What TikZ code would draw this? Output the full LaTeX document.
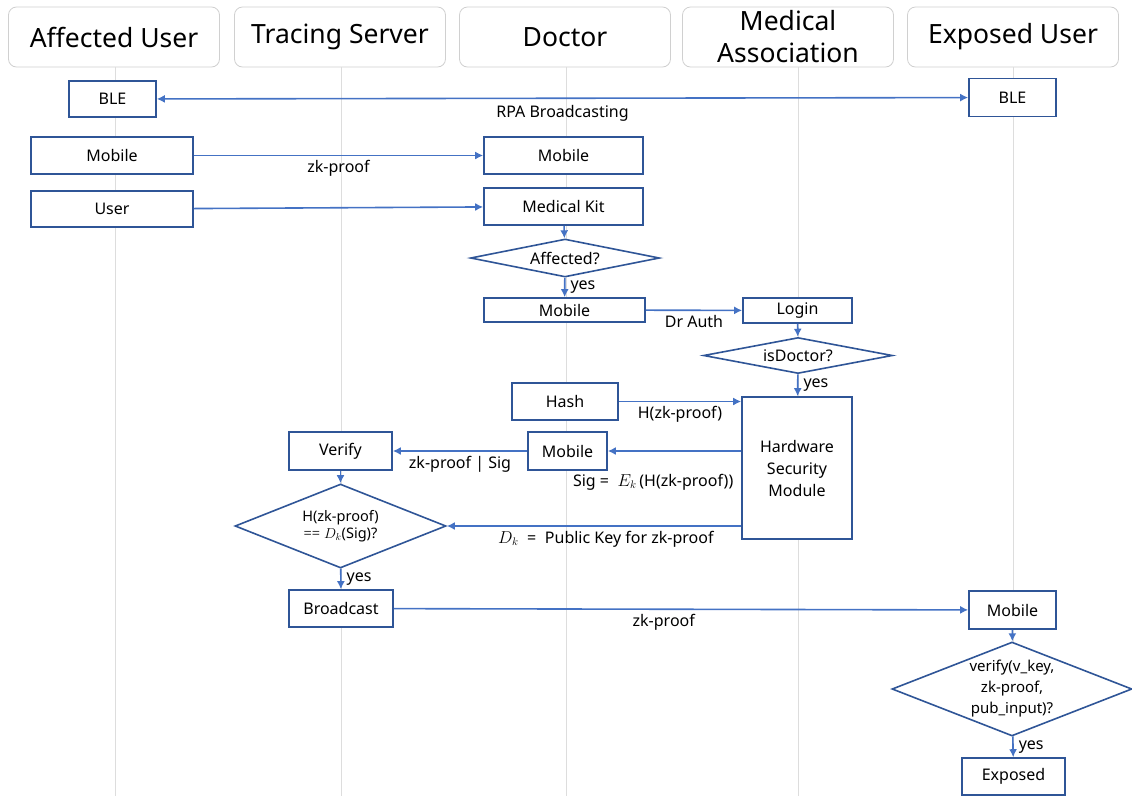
\documentclass[tikz,border=0pt]{standalone}
\usepackage{fontspec}
\setmainfont{Noto Sans}
\usetikzlibrary{shapes.geometric,arrows.meta}
\definecolor{boxc}{HTML}{2F5597}
\definecolor{arrc}{HTML}{4472C4}
\definecolor{hdrc}{HTML}{D0D0D0}
\definecolor{lifec}{HTML}{DDDDDD}
\tikzset{
  hdr/.style={draw=hdrc, line width=0.8pt, rounded corners=8pt, fill=white, minimum width=211pt, minimum height=60pt, inner sep=0pt, font=\fontsize{26.5}{28}\selectfont, align=center},
  bx/.style={draw=boxc, line width=1.6pt, fill=white, inner sep=0pt, font=\fontsize{16}{19}\selectfont, align=center},
  dm/.style={diamond, draw=boxc, line width=1.6pt, fill=white, inner sep=0pt, font=\fontsize{16}{19}\selectfont, align=center},
  arr/.style={draw=arrc, line width=1.6pt, -{Latex[length=8pt,width=8pt]}},
  lbl/.style={font=\fontsize{16}{19}\selectfont, inner sep=1pt},
  life/.style={draw=lifec, line width=0.8pt}
}
\begin{document}
\begin{tikzpicture}[x=1pt,y=-1pt]
\useasboundingbox (0,0) rectangle (1132,796);
% headers
\node[hdr] (h1) at (114,37) {Affected User};
\node[hdr] (h2) at (340,37) {Tracing Server};
\node[hdr] (h3) at (565,37) {Doctor};
\node[hdr] (h4) at (788,37) {Medical\\[4pt]Association};
\node[hdr] (h5) at (1013,37) {Exposed User};
% lifelines
\coordinate (e1) at (115,796);
\coordinate (e2) at (341,796);
\coordinate (e3) at (566,796);
\coordinate (e4) at (798,796);
\coordinate (e5) at (1013,796);
\draw[life] (115,67) -- (e1);
\draw[life] (341,67) -- (e2);
\draw[life] (566,67) -- (e3);
\draw[life] (798,67) -- (e4);
\draw[life] (1013,67) -- (e5);
% boxes
\node[bx, minimum width=87pt, minimum height=36pt] (ble1) at (112.5,99) {BLE};
\node[bx, minimum width=87pt, minimum height=38pt] (ble2) at (1012.5,97.5) {BLE};
\node[bx, minimum width=162pt, minimum height=37pt] (mob1) at (112,155.5) {Mobile};
\node[bx, minimum width=159pt, minimum height=37pt] (mob2) at (563.5,155.5) {Mobile};
\node[bx, minimum width=162pt, minimum height=36pt] (user) at (112,209) {User};
\node[bx, minimum width=159pt, minimum height=37pt] (kit) at (563.5,206.5) {Medical Kit};
\node[dm, shape aspect=5, minimum width=189pt, minimum height=38pt] (aff) at (565,258) {Affected?};
\node[bx, minimum width=161pt, minimum height=24pt] (mob3) at (564.5,310) {Mobile};
\node[bx, minimum width=109pt, minimum height=25pt] (login) at (797.5,310.5) {Login};
\node[dm, shape aspect=5.1, minimum width=189pt, minimum height=36pt] (isdoc) at (798,355.5) {isDoctor?};
\node[bx, minimum width=110pt, minimum height=142pt] (hsm) at (797,468) {Hardware\\[3pt]Security\\[3pt]Module};
\node[bx, minimum width=106pt, minimum height=37pt] (hash) at (565,401.5) {Hash};
\node[bx, minimum width=79pt, minimum height=38pt] (mob4) at (567.5,451) {Mobile};
\node[bx, minimum width=103pt, minimum height=38pt] (ver) at (340.5,451) {Verify};
\node[dm, shape aspect=2.5, minimum width=211pt, minimum height=84pt, font=\fontsize{14.5}{17}\selectfont] (chk) at (340.5,526) {H(zk-proof)\\[0pt]\textcolor{black!75}{==} $D_k$(Sig)?};
\node[bx, minimum width=104pt, minimum height=37pt] (bc) at (341,608.5) {Broadcast};
\node[bx, minimum width=87pt, minimum height=38pt] (mob5) at (1012.5,610) {Mobile};
\node[dm, shape aspect=2.55, minimum width=240pt, minimum height=94pt, font=\fontsize{15}{17}\selectfont] (vk) at (1012,689) {verify(v\_key,\\[4pt]zk-proof,\\[4pt]pub\_input)?};
\node[bx, minimum width=103pt, minimum height=37pt] (exp) at (1013.5,776.5) {Exposed};
% connectors
\draw[arr, {Latex[length=8pt,width=8pt]}-{Latex[length=8pt,width=8pt]}] (ble1) -- (ble2) node[lbl, midway, below=5pt] {RPA Broadcasting};
\draw[arr] (mob1) -- (mob2) node[lbl, midway, below=3pt] {zk-proof};
\draw[arr] (user) -- (kit);
\draw[arr] (kit) -- (aff);
\draw[arr] (aff) -- (mob3) node[lbl, midway, right=4pt] {yes};
\draw[arr] (mob3) -- (login) node[lbl, midway, below=3pt] {Dr Auth};
\draw[arr] (login) -- (isdoc);
\draw[arr] (isdoc) -- (hsm) node[lbl, midway, right=4pt] {yes};
\draw[arr] (hash.east) -- (hash.east -| hsm.west) node[lbl, midway, below=3pt] {H(zk-proof)};
\draw[arr] (hsm.west |- mob4.east) -- (mob4.east) node[lbl, pos=0.66, below=21pt] {Sig = \;$E_k$\,(H(zk-proof))};
\draw[arr] (mob4) -- (ver) node[lbl, midway, below=3pt] {zk-proof | Sig};
\draw[arr] (hsm.west |- chk.east) -- (chk.east) node[lbl, pos=0.46, below=3pt] {$D_k$ \;=\; Public Key for zk-proof};
\draw[arr] (ver) -- (chk);
\draw[arr] (chk) -- (bc) node[lbl, midway, right=4pt] {yes};
\draw[arr] (bc) -- (mob5) node[lbl, pos=0.47, below=3pt] {zk-proof};
\draw[arr] (mob5) -- (vk);
\draw[arr] (vk) -- (exp) node[lbl, midway, right=4pt] {yes};
\end{tikzpicture}
\end{document}
